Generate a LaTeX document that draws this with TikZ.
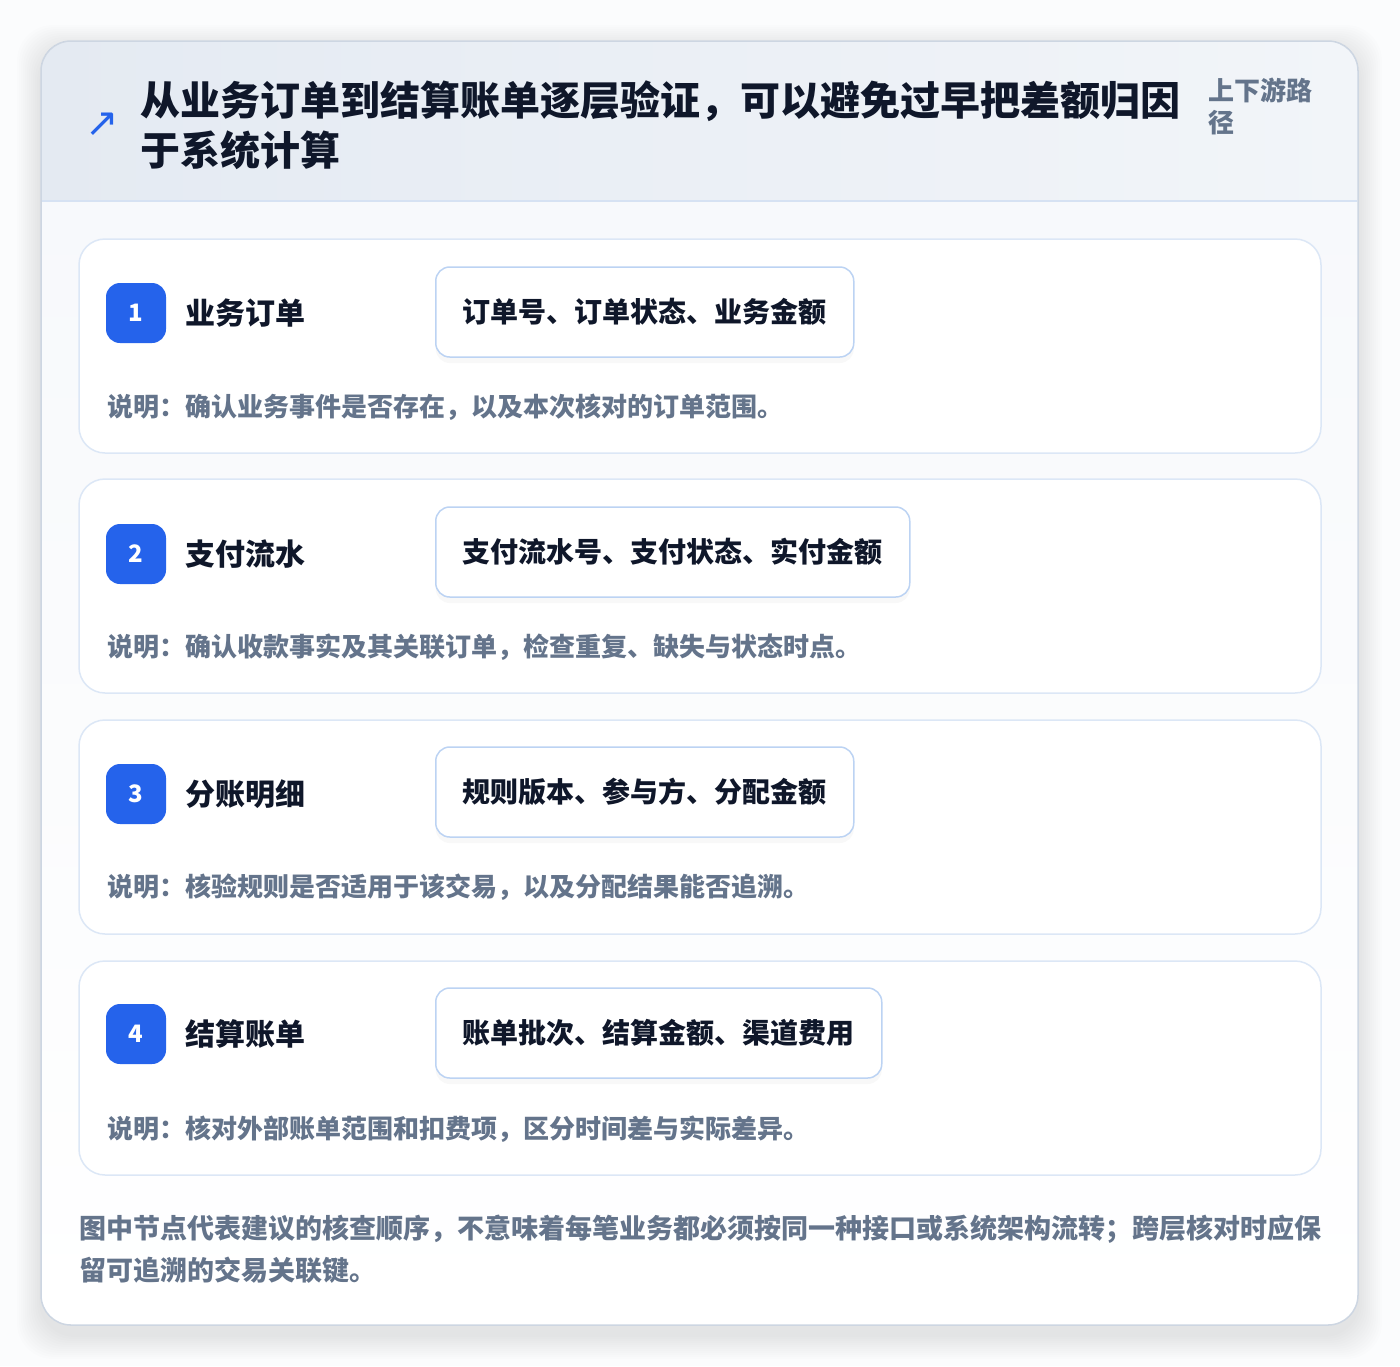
\documentclass[tikz,border=0pt]{standalone}
\usepackage{fontspec}
\setmainfont{Noto Sans CJK SC}
\newfontfamily\heavyfont{Noto Sans CJK SC Black}
\newfontfamily\symfont{DejaVu Sans}
\usetikzlibrary{shadows}

\definecolor{ink}{HTML}{0F172A}
\definecolor{slate}{HTML}{64748B}
\definecolor{badgeblue}{HTML}{2563EB}
\definecolor{cardline}{HTML}{DCE7F6}
\definecolor{fieldline}{HTML}{BCD3F3}
\definecolor{panelline}{HTML}{CDD6E2}
\definecolor{headleft}{HTML}{E4EAF2}
\definecolor{headright}{HTML}{F2F5F9}
\definecolor{headline}{HTML}{D6E2F3}
\definecolor{bodytop}{HTML}{F6F8FB}
\definecolor{pagebg}{HTML}{FBFCFD}

\begin{document}
\begin{tikzpicture}[x=1pt,y=-1pt,
    card/.style={draw=cardline, line width=1.5pt, fill=white, rounded corners=26pt,
        minimum width=1242pt, minimum height=214pt},
    badge/.style={fill=badgeblue, rounded corners=14pt, minimum size=60pt, inner sep=0pt,
        text=white, font=\bfseries\fontsize{24}{24}\selectfont},
    stepname/.style={anchor=west, inner sep=0pt, text=ink, font=\bfseries\fontsize{30}{30}\selectfont},
    fieldbox/.style={anchor=west, draw=fieldline, line width=1.5pt, fill=white, rounded corners=14pt,
        minimum height=90pt, inner xsep=27pt, text=ink, font=\bfseries\fontsize{28}{28}\selectfont,
        drop shadow={shadow xshift=0pt, shadow yshift=-6pt, opacity=0.05}},
    note/.style={anchor=west, inner sep=0pt, text=slate, font=\bfseries\fontsize{26}{26}\selectfont}]
    \useasboundingbox (0,0) rectangle (1400,1366);
    \fill[pagebg] (0,0) rectangle (1400,1366);

    % soft shadow under the panel
    \foreach \s in {2,4,...,24}
        \fill[black, opacity=0.007, rounded corners=36pt] (41-\s,49-\s) rectangle (1358+\s,1335+\s);

    % panel and header
    \fill[top color=bodytop, bottom color=white, rounded corners=30pt] (41,41) rectangle (1358,1325);
    \begin{scope}
        \clip (0,0) rectangle (1400,201);
        \fill[left color=headleft, right color=headright, rounded corners=30pt] (41,41) rectangle (1358,1325);
    \end{scope}
    \path[draw=headline, line width=1.5pt] (42,201) -- (1357,201);
    \path[draw=panelline, line width=1.5pt, rounded corners=30pt] (41,41) rectangle (1358,1325);

    \node[text=badgeblue, inner sep=0pt, font=\symfont\fontsize{40}{40}\selectfont] (icon) at (102,125) {↗};
    \node[anchor=west, inner sep=0pt, align=left, text=ink, font=\heavyfont\fontsize{40}{50}\selectfont] (title) at (140,125)
        {从业务订单到结算账单逐层验证，可以避免过早把差额归因\\于系统计算};
    \node[anchor=west, inner sep=0pt, align=left, text=slate, font=\bfseries\fontsize{26}{32}\selectfont] (tag) at (1208,106)
        {上下游路\\径};

    % step 1
    \node[card] (card1) at (700,346) {};
    \node[badge] (b1) at (136,313) {1};
    \node[stepname] (s1) at (185,313) {业务订单};
    \node[fieldbox] (f1) at (435,312) {订单号、订单状态、业务金额};
    \node[note] (n1) at (107,407) {说明：确认业务事件是否存在，以及本次核对的订单范围。};

    % step 2
    \node[card] (card2) at (700,586) {};
    \node[badge] (b2) at (136,554) {2};
    \node[stepname] (s2) at (185,554) {支付流水};
    \node[fieldbox] (f2) at (435,552) {支付流水号、支付状态、实付金额};
    \node[note] (n2) at (107,647) {说明：确认收款事实及其关联订单，检查重复、缺失与状态时点。};

    % step 3
    \node[card] (card3) at (700,827) {};
    \node[badge] (b3) at (136,794) {3};
    \node[stepname] (s3) at (185,794) {分账明细};
    \node[fieldbox] (f3) at (435,792) {规则版本、参与方、分配金额};
    \node[note] (n3) at (107,887) {说明：核验规则是否适用于该交易，以及分配结果能否追溯。};

    % step 4
    \node[card] (card4) at (700,1068) {};
    \node[badge] (b4) at (136,1034) {4};
    \node[stepname] (s4) at (185,1034) {结算账单};
    \node[fieldbox] (f4) at (435,1033) {账单批次、结算金额、渠道费用};
    \node[note] (n4) at (107,1129) {说明：核对外部账单范围和扣费项，区分时间差与实际差异。};

    \node[anchor=west, inner sep=0pt, align=left, text=slate, font=\bfseries\fontsize{27}{42}\selectfont] (foot) at (79,1249)
        {图中节点代表建议的核查顺序，不意味着每笔业务都必须按同一种接口或系统架构流转；跨层核对时应保\\留可追溯的交易关联键。};
\end{tikzpicture}
\end{document}
